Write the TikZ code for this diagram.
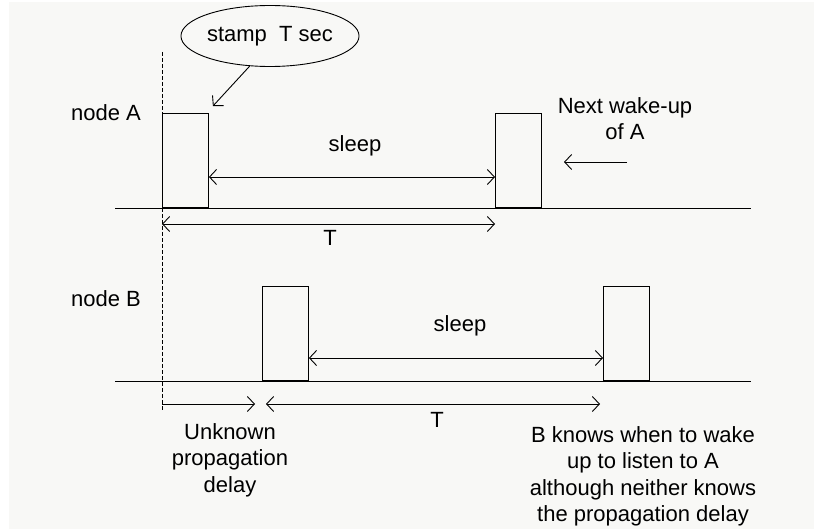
\documentclass[tikz,border=0pt]{standalone}
\usepackage{fontspec}
\setmainfont{Liberation Sans}
\usetikzlibrary{arrows.meta,shapes,calc}
\definecolor{paper}{RGB}{248,248,246}

\begin{document}
\begin{tikzpicture}[x=1pt,y=-1pt,>={Straight Barb[length=7pt,width=15pt]},
    line width=0.9pt,font=\fontsize{22}{26.5}\selectfont]
  \tikzstyle{awake}=[rectangle,draw,minimum width=46pt,minimum height=94pt,
    inner sep=0pt,anchor=south west]
  \tikzstyle{word}=[inner sep=0pt,anchor=base]
  \tikzstyle{note}=[inner sep=0pt,align=center,anchor=north]

  \useasboundingbox (0,0) rectangle (814,529);
  \fill[white] (0,0) rectangle (814,529);
  \fill[paper] (9,2) rectangle (814,529);

  % reference instant
  \coordinate (t0top) at (162,52);
  \coordinate (t0bot) at (162,410);
  \draw[dash pattern=on 4pt off 2pt,line width=0.7pt] (t0top) -- (t0bot);

  % time lines
  \coordinate (lineAl) at (115,208); \coordinate (lineAr) at (751,208);
  \coordinate (lineBl) at (115,381); \coordinate (lineBr) at (751,381);
  \draw (lineAl) -- (lineAr);
  \draw (lineBl) -- (lineBr);

  % wake-up slots
  \node[awake] (a1) at (162,208) {};
  \node[awake] (a2) at (495,208) {};
  \node[awake] (b1) at (262,381) {};
  \node[awake] (b2) at (603,381) {};

  \node[word] (nameA) at (106,121) {node A};
  \node[word] (nameB) at (106,307) {node B};

  % node A
  \draw[<->] ($(a1.south east)+(0,-31)$) -- ($(a2.south west)+(0,-31)$);
  \node[word] (sleepA) at (355,152) {sleep};
  \draw[<->] ($(a1.south west)+(0,16)$) -- ($(a2.south west)+(0,16)$);
  \node[word] (periodA) at (330,246) {T};

  \node[ellipse,draw,minimum width=156pt,minimum height=61pt,inner sep=0pt]
    (stamp) at (270,36) {stamp\ \ T sec};
  \draw[->] (stamp.-124) -- ($(a1.north east)+(4,-7)$);

  \node[note] (next) at (625,97) {Next wake-up\\of A};
  \coordinate (nextFrom) at (627,162);
  \coordinate (nextTo) at (564,162);
  \draw[->] (nextFrom) -- (nextTo);

  % node B
  \draw[<->] ($(b1.south east)+(0,-23)$) -- ($(b2.south west)+(0,-23)$);
  \node[word] (sleepB) at (460,332) {sleep};
  \coordinate (delayFrom) at (162,404);
  \draw[->] (delayFrom) -- ($(b1.south west)+(-7,23)$);
  \draw[<->] ($(b1.south west)+(4,23)$) -- ($(b2.south west)+(-3,23)$);
  \node[word] (periodB) at (437,427) {T};

  \node[note] (delay) at (230,423) {Unknown\\propagation\\delay};
  \node[note] (knows) at (643,426) {B knows when to wake\\up to listen to A\\although neither knows\\the propagation delay};
\end{tikzpicture}
\end{document}
